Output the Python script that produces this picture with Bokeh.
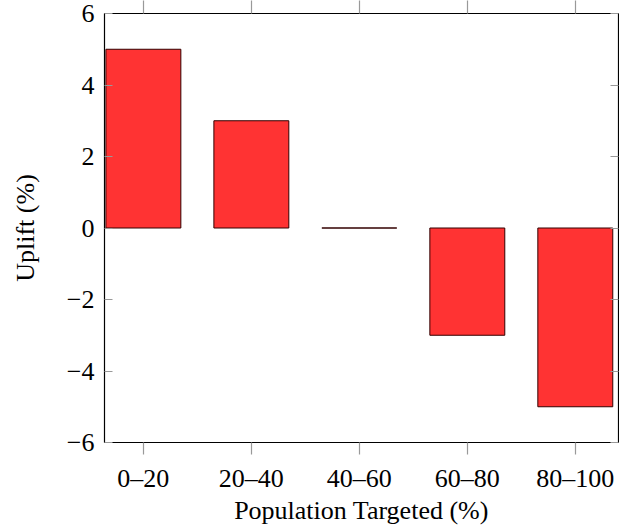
from bokeh.plotting import figure
from bokeh.models import Range1d, LinearAxis, FixedTicker, ColumnDataSource
from bokeh.embed import file_html
from bokeh.resources import INLINE

categories = ["0–20", "20–40", "40–60", "60–80", "80–100"]
uplift = [5, 3, 0, -3, -5]
y_ticks = [-6, -4, -2, 0, 2, 4, 6]

xs = list(range(len(categories)))
src = ColumnDataSource(dict(x=xs, top=uplift))

FONT = "Liberation Serif"
FS = "26px"
p = figure(width=619, height=527, output_backend="svg", toolbar_location=None,
           x_range=Range1d(-0.36, 4.4), y_range=Range1d(-6, 6),
           x_axis_location=None, y_axis_location=None)
p.min_border_left = 104
p.min_border_right = 1
p.min_border_top = 13
p.min_border_bottom = 84
p.grid.visible = False
p.outline_line_color = "black"
p.outline_line_width = 1.2

p.vbar(x="x", top="top", bottom=0, width=0.694, source=src,
       fill_color="#FF3333", line_color="#330000", line_width=1)

def style(ax):
    ax.axis_line_color = None
    ax.major_tick_line_color = "#999999"
    ax.major_tick_line_width = 1.2
    ax.minor_tick_line_color = None
    ax.major_label_text_color = "black"
    ax.axis_label_text_color = "black"

xl = {i: c for i, c in enumerate(categories)}
bottom = LinearAxis(ticker=FixedTicker(ticks=xs), major_label_overrides=xl)
style(bottom)
bottom.major_tick_in = 0
bottom.major_tick_out = 12
bottom.major_label_standoff = 9
bottom.major_label_text_font = FONT
bottom.major_label_text_font_size = FS
bottom.axis_label = "Population Targeted (%)"
bottom.axis_label_text_font = FONT
bottom.axis_label_text_font_size = FS
bottom.axis_label_text_font_style = "normal"
bottom.axis_label_standoff = 0
p.add_layout(bottom, "below")

top_ax = LinearAxis(ticker=FixedTicker(ticks=xs), major_label_overrides={i: "" for i in xs})
style(top_ax)
top_ax.major_tick_in = 0
top_ax.major_tick_out = 13
top_ax.major_label_standoff = 0
top_ax.major_label_text_font_size = "0px"
p.add_layout(top_ax, "above")

yl = {t: (str(t).replace("-", "−")) for t in y_ticks}
left = LinearAxis(ticker=FixedTicker(ticks=y_ticks), major_label_overrides=yl)
style(left)
left.major_tick_in = 8
left.major_tick_out = 0
left.major_label_standoff = 10
left.major_label_text_font = FONT
left.major_label_text_font_size = FS
left.axis_label = "Uplift (%)"
left.axis_label_text_font = FONT
left.axis_label_text_font_size = FS
left.axis_label_text_font_style = "normal"
left.axis_label_standoff = 24
p.add_layout(left, "left")

right = LinearAxis(ticker=FixedTicker(ticks=y_ticks), major_label_overrides={t: "" for t in y_ticks})
style(right)
right.major_tick_in = 8
right.major_tick_out = 0
right.major_label_standoff = 0
right.major_label_text_font_size = "0px"
p.add_layout(right, "right")

open("out.html", "w").write(file_html(p, INLINE))
